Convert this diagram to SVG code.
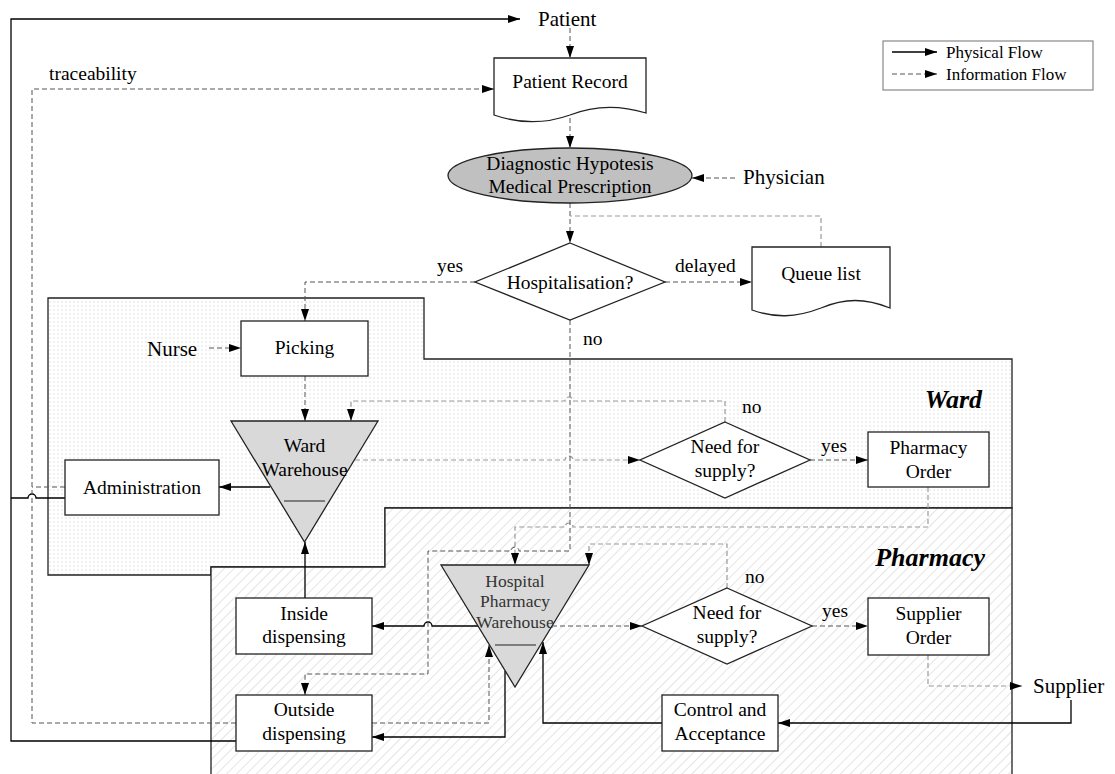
<svg xmlns="http://www.w3.org/2000/svg" width="1115" height="774" viewBox="0 0 1115 774" font-family="'Liberation Serif','Times New Roman',serif">
<defs>
<style>
text{font-family:"Liberation Serif","Times New Roman",serif;font-size:19.5px;fill:#000}
.c{text-anchor:middle}
.big{font-size:21px}
.lg{font-size:17px}
.rl{font-size:26px;font-weight:bold;font-style:italic;text-anchor:end}
.box{fill:#fff;stroke:#222;stroke-width:1.3}
.phys{fill:none;stroke:#000;stroke-width:1.3}
.info{fill:none;stroke:#555;stroke-width:1;stroke-dasharray:5,3}
.infol{fill:none;stroke:#999;stroke-width:1.2;stroke-dasharray:5,3}
.arr{marker-end:url(#ah)}
</style>
<marker id="ah" viewBox="0 0 12 8" refX="12" refY="4" markerWidth="12" markerHeight="8" markerUnits="userSpaceOnUse" orient="auto"><path d="M0,0 L12,4 L0,8 z" fill="#000"/></marker>
<pattern id="dots" patternUnits="userSpaceOnUse" width="4" height="4"><rect width="4" height="4" fill="#fff"/><circle cx="2" cy="2" r="0.7" fill="#dadada"/></pattern>
<pattern id="hatch" patternUnits="userSpaceOnUse" width="7" height="7" patternTransform="rotate(45)"><rect width="7" height="7" fill="#fff"/><line x1="0" y1="0" x2="0" y2="7" stroke="#d2d2d2" stroke-width="1.2"/></pattern>
</defs>
<rect width="1115" height="774" fill="#fff"/>

<g id="regions">
<path id="ward-region" d="M48,298 H424 V359 H1012 V508 H385 V567 H211 V575 H48 Z" fill="url(#dots)" stroke="#222" stroke-width="1.3"/>
<path id="pharmacy-region" d="M211,780 V567 H385 V508 H1012 V780" fill="url(#hatch)" stroke="#222" stroke-width="1.3"/>
<text class="rl" x="982" y="408">Ward</text>
<text class="rl" x="985" y="566">Pharmacy</text>
</g>

<g id="connectors">
<path class="phys arr" d="M236,741 H11 V19 H520"/>
<path class="phys" d="M65,498 H36 A4,4 0 0 0 28,498 H11"/>
<path class="phys arr" d="M270,487 H219"/>
<path class="phys arr" d="M305,598 V542"/>
<path class="phys arr" d="M478,626 H432 A4,4 0 0 0 424,626 H372"/>
<path class="phys arr" d="M505,671 V737 H372"/>
<path class="phys arr" d="M662,723 H543 V642"/>
<path class="phys arr" d="M1071,700 V723 H778"/>

<path class="info arr" d="M570,28 V58"/>
<path class="info arr" d="M236,723 H32 V89 H494"/>
<path class="info" d="M65,487 H32"/>
<path class="info arr" d="M570,118 V148"/>
<path class="info arr" d="M735,178 H692"/>
<path class="info arr" d="M570,203 V243"/>
<path class="infol" d="M821,247 V216 H570"/>
<path class="info arr" d="M665,282 H752"/>
<path class="info arr" d="M475,282 H305 V321"/>
<path class="info arr" d="M209,348 H241"/>
<path class="info arr" d="M305,376 V421"/>
<path class="infol arr" d="M725,422 V401 H573 A4,4 0 0 0 565,401 H351 V421"/>
<path class="infol arr" d="M355,460 H565 A4,4 0 0 1 573,460 H640"/>
<path class="info arr" d="M810,460 H868"/>
<path class="infol arr" d="M928,487 V527 H573 A4,4 0 0 0 565,527 H515 V565"/>
<path class="info arr" d="M570,320 V551 H519 A4,4 0 0 0 511,551 H428 V674 H305 V695"/>
<path class="info arr" d="M552,626 H642"/>
<path class="infol arr" d="M727,588 V544 H589 V565"/>
<path class="info arr" d="M812,626 H868"/>
<path class="infol arr" d="M928,655 V686 H1022"/>
<path class="info arr" d="M372,723 H489 V645"/>
</g>

<g id="edge-labels">
<text x="49" y="80">traceability</text>
<text x="437" y="272">yes</text>
<text x="675" y="272">delayed</text>
<text x="583" y="345">no</text>
<text x="742" y="413">no</text>
<text x="821" y="452">yes</text>
<text x="745" y="583">no</text>
<text x="822" y="617">yes</text>
</g>

<g id="patient"><text class="big" x="538" y="26">Patient</text></g>
<g id="patient-record">
<path class="box" d="M494,58 H646 V113 C620,105 595,105 570,115 C545,124 520,124 494,115 Z"/>
<text class="c" x="570" y="88">Patient Record</text>
</g>
<g id="diagnosis">
<ellipse cx="570" cy="175.5" rx="122" ry="27.5" fill="#c0c0c0" stroke="#222" stroke-width="1.3"/>
<text class="c" x="570" y="170">Diagnostic Hypotesis</text>
<text class="c" x="570" y="193">Medical Prescription</text>
</g>
<g id="physician"><text class="big" x="743" y="184">Physician</text></g>
<g id="hospitalisation">
<polygon class="box" points="570,243 665,282 570,320 475,282"/>
<text class="c" x="570" y="289">Hospitalisation?</text>
</g>
<g id="queue-list">
<path class="box" d="M752,247 H890 V308 C865,298 845,298 821,308 C795,318 775,318 752,310 Z"/>
<text class="c" x="821" y="280">Queue list</text>
</g>
<g id="nurse"><text class="big" x="147" y="356">Nurse</text></g>
<g id="picking">
<rect class="box" x="241" y="321" width="127" height="55"/>
<text class="c" x="304.5" y="354">Picking</text>
</g>
<g id="ward-warehouse">
<polygon points="231,421 378,421 304.5,542" fill="#d9d9d9" stroke="#222" stroke-width="1.3"/>
<text class="c" x="304.5" y="452">Ward</text>
<text class="c" x="304.5" y="476">Warehouse</text>
<line x1="284" y1="501" x2="325" y2="501" stroke="#222" stroke-width="1.2"/>
</g>
<g id="administration">
<rect class="box" x="65" y="460" width="154" height="55"/>
<text class="c" x="142" y="494">Administration</text>
</g>
<g id="need-supply-ward">
<polygon class="box" points="725,422 810,460 725,498 640,460"/>
<text class="c" x="725" y="453">Need for</text>
<text class="c" x="725" y="477">supply?</text>
</g>
<g id="pharmacy-order">
<rect class="box" x="868" y="432" width="121" height="55"/>
<text class="c" x="928.5" y="454">Pharmacy</text>
<text class="c" x="928.5" y="478">Order</text>
</g>
<g id="hospital-pharmacy-warehouse">
<polygon points="441,565 589,565 515,687" fill="#d9d9d9" stroke="#222" stroke-width="1.3"/>
<text class="c" x="515" y="587" style="font-size:17.5px;fill:#333">Hospital</text>
<text class="c" x="515" y="607" style="font-size:17.5px;fill:#333">Pharmacy</text>
<text class="c" x="515" y="628" style="font-size:17.5px;fill:#333">Warehouse</text>
<line x1="495" y1="645" x2="536" y2="645" stroke="#222" stroke-width="1.2"/>
</g>
<g id="need-supply-pharmacy">
<polygon class="box" points="727,588 812,626 727,664 642,626"/>
<text class="c" x="727" y="619">Need for</text>
<text class="c" x="727" y="643">supply?</text>
</g>
<g id="supplier-order">
<rect class="box" x="868" y="598" width="121" height="57"/>
<text class="c" x="928.5" y="620">Supplier</text>
<text class="c" x="928.5" y="644">Order</text>
</g>
<g id="inside-dispensing">
<rect class="box" x="236" y="598" width="136" height="56"/>
<text class="c" x="304" y="620">Inside</text>
<text class="c" x="304" y="643">dispensing</text>
</g>
<g id="outside-dispensing">
<rect class="box" x="236" y="695" width="136" height="56"/>
<text class="c" x="304" y="716">Outside</text>
<text class="c" x="304" y="740">dispensing</text>
</g>
<g id="control-acceptance">
<rect class="box" x="662" y="695" width="116" height="56"/>
<text class="c" x="720" y="716">Control and</text>
<text class="c" x="720" y="740">Acceptance</text>
</g>
<g id="supplier"><text class="big" x="1033" y="693">Supplier</text></g>

<g id="legend">
<rect x="883" y="41" width="210" height="49" fill="#fff" stroke="#888" stroke-width="1.2"/>
<path class="phys arr" d="M892,52 H937"/>
<path class="info arr" d="M892,74 H937"/>
<text class="lg" x="946" y="58">Physical Flow</text>
<text class="lg" x="946" y="80">Information Flow</text>
</g>
</svg>
